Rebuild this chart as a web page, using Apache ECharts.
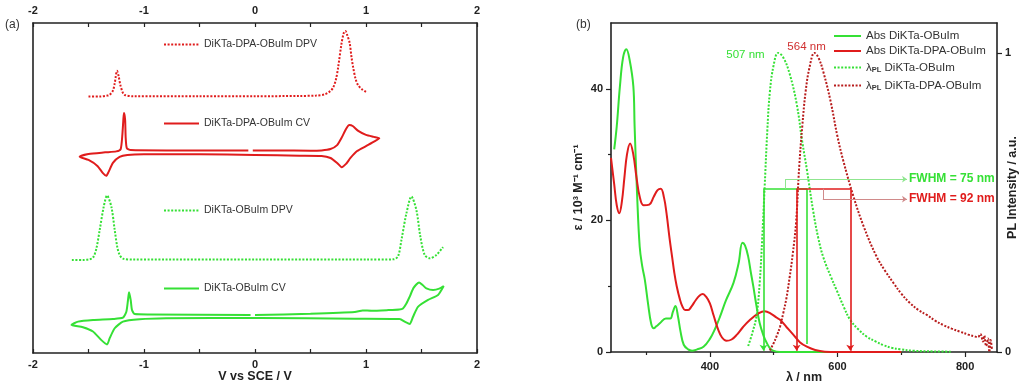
<!DOCTYPE html>
<html><head><meta charset="utf-8">
<script src="https://cdn.jsdelivr.net/npm/echarts@6/dist/echarts.min.js"></script>
<style>html,body{margin:0;padding:0;background:#fff}#c{width:1024px;height:384px}</style>
</head><body><div id="c"></div>
<script>
// ---------- Panel (a): CV / DPV, [V vs SCE, current (a.u., offset)] ----------
const redDPV = [[-1.50,77.7],[-1.40,77.7],[-1.33,78.0],[-1.31,78.2],[-1.28,79.5],[-1.264,81.7],[-1.243,85.5],[-1.228,83.8],[-1.213,81.2],[-1.19,78.8],[-1.174,78.2],[-1.10,77.8],[-0.5,77.8],[0,77.8],[0.4,77.9],[0.55,78.0],[0.63,78.4],[0.68,79.4],[0.705,80.5],[0.73,83.0],[0.75,86.8],[0.78,93.9],[0.80,97.0],[0.814,97.6],[0.83,96.4],[0.853,93.9],[0.87,89.5],[0.883,86.8],[0.905,83.2],[0.928,81.2],[0.96,80.0],[1.0,79.1]];
const redCV = [[-0.02,61.4],[0.2,61.4],[0.5,61.3],[0.6,61.4],[0.68,61.8],[0.74,63.0],[0.78,65.2],[0.82,67.9],[0.85,69.1],[0.88,68.8],[0.93,67.3],[1.0,66.1],[1.07,65.5],[1.12,65.1],[1.08,64.2],[1.0,62.7],[0.92,61.2],[0.86,59.1],[0.82,57.3],[0.78,56.3],[0.74,57.6],[0.68,59.1],[0.6,59.7],[0.4,59.8],[0,60.0],[-0.5,60.2],[-1.0,60.2],[-1.15,60.0],[-1.22,59.4],[-1.28,57.6],[-1.32,54.8],[-1.34,53.7],[-1.37,54.5],[-1.42,56.7],[-1.5,58.5],[-1.58,59.5],[-1.5,60.3],[-1.35,60.8],[-1.25,61.1],[-1.21,61.8],[-1.195,66.1],[-1.185,71.2],[-1.18,72.7],[-1.17,70.6],[-1.165,65.2],[-1.155,62.1],[-1.12,61.5],[-0.8,61.4],[-0.4,61.4],[-0.06,61.4]];
const greenDPV = [[-1.65,28.2],[-1.55,28.2],[-1.49,28.4],[-1.459,28.9],[-1.43,31.5],[-1.399,37.3],[-1.363,44.3],[-1.333,47.7],[-1.294,44.3],[-1.264,37.3],[-1.24,32.0],[-1.219,29.7],[-1.19,28.6],[-1.1,28.3],[0,28.3],[1.0,28.3],[1.25,28.4],[1.29,29.4],[1.319,34.2],[1.364,42.3],[1.409,47.4],[1.454,43.3],[1.49,35.2],[1.529,29.7],[1.574,28.7],[1.634,29.7],[1.694,32.1]];
const greenCV = [[0.0,11.5],[0.5,11.9],[0.9,12.4],[0.97,12.9],[1.05,12.8],[1.2,13.0],[1.3,13.2],[1.333,13.5],[1.364,15.0],[1.394,17.1],[1.43,19.8],[1.478,21.4],[1.51,20.6],[1.544,19.6],[1.604,19.1],[1.66,19.5],[1.70,20.3],[1.649,17.6],[1.559,16.1],[1.468,14.0],[1.424,11.0],[1.394,8.8],[1.349,9.5],[1.304,10.3],[0.9,10.4],[0.03,10.6],[-0.8,10.5],[-1.04,10.2],[-1.19,9.5],[-1.264,7.5],[-1.309,4.5],[-1.333,2.6],[-1.384,3.9],[-1.46,6.5],[-1.55,7.8],[-1.654,8.5],[-1.594,9.5],[-1.459,10.0],[-1.279,10.3],[-1.19,10.7],[-1.159,12.5],[-1.144,16.1],[-1.135,18.4],[-1.12,16.1],[-1.108,13.0],[-1.084,11.8],[-0.95,11.7],[-0.04,11.5]];
const vTicks = [-2,-1,0,1,2];

// ---------- Panel (b): absorption [nm, eps/10^3] and PL [nm, a.u.] ----------
const absGreen = [[250,30.8],[254,34.3],[259,40.4],[264,44.8],[269,46.0],[274,44.5],[280,40.4],[282,34.3],[286,23.7],[290,16],[294,13],[298,11],[303,7.4],[308,4.3],[312,3.6],[316,3.9],[322,4.4],[331,5.1],[338,5.1],[342,6.1],[346,7.0],[350,5.4],[354,3.1],[359,1.1],[366,0.4],[372,0.2],[380,0.4],[390,0.8],[400,2.0],[408,3.5],[416,5.4],[425,7.8],[437,10.5],[445,13.5],[451,16.6],[455,16.2],[460,14.5],[464,12.2],[468,10],[473,7],[478,4.4],[484,2.5],[489,1.4],[494,0.6],[499,0.2],[510,0],[600,0],[700,0]];
const absRed = [[245,29.5],[250,25.5],[254,22.3],[258,21.1],[262,22.8],[266,26.5],[270,30.0],[275,31.7],[280,30.0],[285,26.5],[290,23.6],[296,22.3],[305,22.4],[312,23.6],[318,24.6],[323,24.8],[328,23.5],[332,21.1],[337,17.1],[341,14.3],[344,12.2],[348,10],[353,8],[357,6.9],[361,6.4],[366,6.4],[371,6.9],[378,7.9],[384,8.6],[389,8.8],[394,8.4],[400,7.4],[406,5.5],[413,3.4],[419,2.2],[426,1.7],[434,1.9],[442,2.6],[452,3.8],[463,4.9],[475,5.8],[486,6.2],[496,5.8],[505,5.2],[510,4.9],[520,3.8],[531,2.6],[541,1.5],[552,0.8],[565,0.3],[580,0.05],[600,0],[700,0]];
const plGreen = [[460,0.02],[466,0.06],[473,0.12],[478,0.23],[482,0.38],[486,0.56],[490,0.74],[494,0.87],[500,0.96],[507,1.0],[515,0.985],[525,0.93],[536,0.83],[545,0.70],[552,0.61],[562,0.47],[570,0.38],[578,0.315],[590,0.25],[599,0.205],[610,0.15],[620,0.107],[633,0.075],[646,0.051],[660,0.035],[672,0.023],[685,0.014],[698,0.009],[720,0.004],[750,0.002],[780,0.001]];
const plRed = [[494,0.005],[500,0.03],[505,0.055],[510,0.085],[515,0.13],[520,0.18],[525,0.25],[530,0.33],[535,0.43],[540,0.62],[545,0.76],[550,0.87],[556,0.95],[564,1.0],[570,0.985],[578,0.935],[589,0.84],[600,0.72],[609,0.64],[625,0.52],[641,0.42],[661,0.32],[675,0.27],[688,0.23],[700,0.195],[714,0.163],[727,0.14],[740,0.124],[753,0.105],[766,0.09],[779,0.078],[792,0.068],[805,0.058],[815,0.052],[820,0.05],[824,0.06],[828,0.035],[830,0.055],[833,0.02],[836,0.045],[838,0.0],[840,0.04],[842,0.01]];
const peakG = [507, 1.0];
const peakR = [564, 1.0];
const fwhmG = [484, 552];
const fwhmR = [536, 620];
const fwhmLevel = 0.546;
const calloutG = [518, 0.578];
const calloutR = [577, 0.511];
const calloutEnd = 709;
const xTicksB = [400, 600, 800];
const xMinorB = [300, 500, 700];
const yTicksB = [0, 20, 40];
const yMinorB = [10, 30];
const plTicks = [0, 1];

const F = 'Liberation Sans, Arial, sans-serif';
const INK = '#222';
const GREEN = '#35e035';
const RED = '#e01c1c';
const DRED = '#b81c1c';
const axisLine = {show:true, onZero:false, lineStyle:{color:INK, width:1.6}};
const noLine = {show:false, onZero:false};
const lbl = {fontFamily:F, fontSize:11, fontWeight:'bold', color:INK};
const nameStyle = {fontFamily:F, fontSize:12.5, fontWeight:'bold', color:INK};

const leftX = (pos, withLabel) => ({
  gridIndex:0, type:'value', position:pos, min:-2, max:2, interval:0.5,
  axisLine, splitLine:{show:false},
  axisTick:{show:true, inside:true, length:4, lineStyle:{color:INK, width:1.2}},
  axisLabel:Object.assign({show:true, margin:pos==='top'?7:6, formatter:v=>vTicks.includes(v)?String(v):''}, lbl),
  name: withLabel ? 'V vs SCE / V' : '', nameLocation:'middle', nameGap:17, nameMoveOverlap:false, nameTextStyle:nameStyle
});

const dotted = [2, 1.6];
const base = {type:'line', symbol:'none', showSymbol:false, animation:false, silent:true};

const legendCommon = {padding:0, itemGap:5, selectedMode:false, itemHeight:14,
  itemStyle:{opacity:0, borderWidth:0}};
const leftLeg = (name, top) => Object.assign({data:[name], left:163, top, itemWidth:35,
  textStyle:{fontFamily:F, fontSize:10.5, color:'#333'}}, legendCommon);
const rich = {
  l:{fontFamily:F, fontSize:11.5, color:'#333'},
  s:{fontFamily:F, fontSize:7.5, fontWeight:'bold', color:'#333', verticalAlign:'bottom', padding:[5,0,0,0]},
  n:{fontFamily:F, fontSize:11.5, color:'#333'}
};
const rightLeg = (name, top) => Object.assign({data:[name], left:833, top, itemWidth:27,
  formatter: n => n.startsWith('λPL') ? '{l|λ}{s|PL}{n| ' + n.slice(4) + '}' : n,
  textStyle:{fontFamily:F, fontSize:11.5, color:'#333', rich}}, legendCommon);

const thin = (c) => ({color:c, width:1, type:'solid'});
const fwhmLines = (pair, callout, mainColor, lightColor, text) => ({
  symbol:['none','none'], symbolSize:6, silent:true, animation:false,
  label:{show:false}, lineStyle:{color:mainColor, width:1.6, type:'solid'},
  data:[
    [{coord:[pair[0], fwhmLevel]}, {coord:[pair[0], 0.004], symbol: 'arrow'}],
    [{coord:[pair[0], fwhmLevel]}, {coord:[pair[1], fwhmLevel]}],
    [{coord:[pair[1], fwhmLevel]}, mainColor===GREEN ? {coord:[pair[1], 0.027]} : {coord:[pair[1], 0.004], symbol:'arrow'}],
    [{coord:[callout[0], fwhmLevel], lineStyle:thin(lightColor)}, {coord:callout}],
    [{coord:callout, lineStyle:thin(lightColor)}, {coord:[calloutEnd, callout[1]], symbol:'arrow', symbolSize:5,
      label:{show:true, position:'end', distance:2, formatter:text, fontFamily:F, fontSize:12, fontWeight:'bold', color:mainColor}}]
  ]
});

const option = {
  backgroundColor:'#fff',
  animation:false,
  title:[
    {text:'(a)', left:5, top:19, padding:0, textStyle:{fontFamily:F, fontSize:12, fontWeight:'normal', color:'#333'}},
    {text:'(b)', left:576, top:19, padding:0, textStyle:{fontFamily:F, fontSize:12, fontWeight:'normal', color:'#333'}}
  ],
  grid:[
    {left:33, top:23, width:444, height:330, containLabel:false, outerBoundsMode:'none'},
    {left:611, top:23, width:386, height:329, containLabel:false, outerBoundsMode:'none'}
  ],
  legend:[
    leftLeg('DiKTa-DPA-OBuIm DPV', 39),
    leftLeg('DiKTa-DPA-OBuIm CV', 118),
    leftLeg('DiKTa-OBuIm DPV', 205),
    leftLeg('DiKTa-OBuIm CV', 283),
    rightLeg('Abs DiKTa-OBuIm', 30),
    rightLeg('Abs DiKTa-DPA-OBuIm', 45),
    rightLeg('λPL DiKTa-OBuIm', 61.5),
    rightLeg('λPL DiKTa-DPA-OBuIm', 79.5)
  ],
  xAxis:[
    leftX('bottom', true),
    leftX('top', false),
    {gridIndex:1, type:'value', position:'bottom', min:245, max:850, axisLine, splitLine:{show:false},
     axisTick:{show:true, length:5, customValues:xTicksB, lineStyle:{color:INK, width:1.2}},
     axisLabel:Object.assign({show:true, margin:9, customValues:xTicksB}, lbl),
     name:'λ / nm', nameLocation:'middle', nameGap:19, nameMoveOverlap:false, nameTextStyle:nameStyle},
    {gridIndex:1, type:'value', position:'bottom', min:245, max:850, axisLine:noLine, splitLine:{show:false},
     axisTick:{show:true, length:3, customValues:xMinorB, lineStyle:{color:INK, width:1.2}},
     axisLabel:{show:false}},
    {gridIndex:1, type:'value', position:'top', min:245, max:850, axisLine, splitLine:{show:false},
     axisTick:{show:false}, axisLabel:{show:false}}
  ],
  yAxis:[
    {gridIndex:0, type:'value', position:'left', min:0, max:100, axisLine, axisTick:{show:false}, axisLabel:{show:false}, splitLine:{show:false}},
    {gridIndex:0, type:'value', position:'right', min:0, max:100, axisLine, axisTick:{show:false}, axisLabel:{show:false}, splitLine:{show:false}},
    {gridIndex:1, type:'value', position:'left', min:0, max:50, axisLine, splitLine:{show:false},
     axisTick:{show:true, length:5, customValues:yTicksB, lineStyle:{color:INK, width:1.2}},
     axisLabel:Object.assign({show:true, margin:8, customValues:yTicksB}, lbl),
     name:'ε / 10³ M⁻¹ cm⁻¹', nameLocation:'middle', nameRotate:90, nameGap:26, nameMoveOverlap:false, nameTextStyle:nameStyle},
    {gridIndex:1, type:'value', position:'left', min:0, max:50, axisLine:noLine, splitLine:{show:false},
     axisTick:{show:true, length:3, customValues:yMinorB, lineStyle:{color:INK, width:1.2}}, axisLabel:{show:false}},
    {gridIndex:1, type:'value', position:'right', min:0, max:1.1, axisLine, splitLine:{show:false},
     axisTick:{show:true, length:5, customValues:plTicks, lineStyle:{color:INK, width:1.2}},
     axisLabel:Object.assign({show:true, margin:8, customValues:plTicks}, lbl),
     name:'PL Intensity / a.u.', nameLocation:'middle', nameRotate:90, nameGap:9, nameMoveOverlap:false, nameTextStyle:nameStyle}
  ],
  series:[
    Object.assign({name:'DiKTa-DPA-OBuIm DPV', xAxisIndex:0, yAxisIndex:0, data:redDPV, smooth:0.3,
      lineStyle:{color:RED, width:2, type:dotted}, itemStyle:{color:RED}}, base),
    Object.assign({name:'DiKTa-DPA-OBuIm CV', xAxisIndex:0, yAxisIndex:0, data:redCV, smooth:0.2,
      lineStyle:{color:RED, width:2}, itemStyle:{color:RED}}, base),
    Object.assign({name:'DiKTa-OBuIm DPV', xAxisIndex:0, yAxisIndex:0, data:greenDPV, smooth:0.3,
      lineStyle:{color:GREEN, width:2, type:dotted}, itemStyle:{color:GREEN}}, base),
    Object.assign({name:'DiKTa-OBuIm CV', xAxisIndex:0, yAxisIndex:0, data:greenCV, smooth:0.2,
      lineStyle:{color:GREEN, width:2}, itemStyle:{color:GREEN}}, base),

    Object.assign({name:'Abs DiKTa-OBuIm', xAxisIndex:2, yAxisIndex:2, data:absGreen, smooth:0.4,
      lineStyle:{color:GREEN, width:2}, itemStyle:{color:GREEN}}, base),
    Object.assign({name:'Abs DiKTa-DPA-OBuIm', xAxisIndex:2, yAxisIndex:2, data:absRed, smooth:0.4,
      lineStyle:{color:RED, width:2}, itemStyle:{color:RED}}, base),
    Object.assign({name:'λPL DiKTa-OBuIm', xAxisIndex:2, yAxisIndex:4, data:plGreen, smooth:0.4,
      lineStyle:{color:GREEN, width:2, type:dotted}, itemStyle:{color:GREEN},
      markPoint:{symbol:'circle', symbolSize:1, itemStyle:{color:'rgba(0,0,0,0)'}, animation:false,
        data:[{coord:peakG, label:{show:true, position:'left', distance:13, offset:[0,2], formatter:peakG[0]+' nm',
          fontFamily:F, fontSize:11.5, color:GREEN}}]}}, base),
    Object.assign({name:'λPL DiKTa-DPA-OBuIm', xAxisIndex:2, yAxisIndex:4, data:plRed, smooth:0.4,
      lineStyle:{color:DRED, width:2, type:dotted}, itemStyle:{color:DRED},
      markPoint:{symbol:'circle', symbolSize:1, itemStyle:{color:'rgba(0,0,0,0)'}, animation:false,
        data:[{coord:peakR, label:{show:true, position:'top', distance:2, offset:[-8,2], formatter:peakR[0]+' nm',
          fontFamily:F, fontSize:11.5, color:'#d03030'}}]}}, base),
    Object.assign({name:'fwhmG', xAxisIndex:2, yAxisIndex:4, data:[],
      markLine:fwhmLines(fwhmG, calloutG, GREEN, '#8fe68f', 'FWHM = 75 nm')}, base),
    Object.assign({name:'fwhmR', xAxisIndex:2, yAxisIndex:4, data:[],
      markLine:fwhmLines(fwhmR, calloutR, RED, '#d08a8a', 'FWHM = 92 nm')}, base)
  ]
};
const chart = echarts.init(document.getElementById('c'), null, {renderer:'canvas'});
chart.setOption(option);
</script></body></html>
